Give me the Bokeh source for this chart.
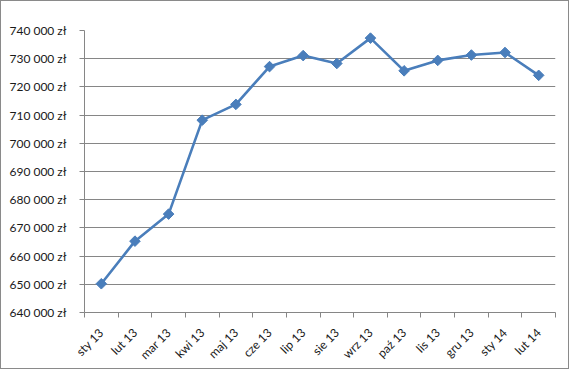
import math
from bokeh.plotting import figure
from bokeh.models import FixedTicker, Range1d
from bokeh.embed import file_html
from bokeh.resources import INLINE

months = ["sty 13", "lut 13", "mar 13", "kwi 13", "maj 13", "cze 13", "lip 13",
          "sie 13", "wrz 13", "paź 13", "lis 13", "gru 13", "sty 14", "lut 14"]
values = [650200, 665300, 674900, 708200, 713800, 727200, 731100,
          728300, 737300, 725700, 729400, 731300, 732200, 724100]
y_ticks = [640000, 650000, 660000, 670000, 680000, 690000,
           700000, 710000, 720000, 730000, 740000]
y_tick_labels = ["640 000 zł", "650 000 zł", "660 000 zł", "670 000 zł",
                 "680 000 zł", "690 000 zł", "700 000 zł", "710 000 zł",
                 "720 000 zł", "730 000 zł", "740 000 zł"]

xs = [i + 0.5 for i in range(len(months))]
boundaries = list(range(len(months) + 1))

GRAY = "#868686"
BLUE = "#4a7ebb"
FONT = "Lato"

p = figure(width=569, height=369, output_backend="svg", toolbar_location=None,
           x_range=Range1d(0, len(months)), y_range=Range1d(y_ticks[0], y_ticks[-1]),
           min_border_left=83, min_border_right=15, min_border_top=29, min_border_bottom=40)
p.styles = {"border": "1px solid #8a8a8a", "box-sizing": "border-box"}
p.outline_line_color = None
p.background_fill_color = "white"
p.border_fill_color = "white"

p.xgrid.grid_line_color = None
p.ygrid.grid_line_color = GRAY
p.ygrid.grid_line_width = 1

p.line(xs, values, line_color=BLUE, line_width=2.6)
p.scatter(xs, values, marker="square", angle=math.pi / 4, size=7.5,
          fill_color=BLUE, line_color=BLUE, line_width=1)

ya = p.yaxis[0]
ya.ticker = FixedTicker(ticks=y_ticks, minor_ticks=[])
ya.major_label_overrides = {t: l for t, l in zip(y_ticks, y_tick_labels)}
ya.axis_line_color = GRAY
ya.major_tick_line_color = GRAY
ya.major_tick_out = 5
ya.major_tick_in = 0
ya.minor_tick_line_color = None
ya.major_label_standoff = 13
ya.major_label_text_font = FONT
ya.major_label_text_font_size = "12px"
ya.major_label_text_color = "#1a1a1a"

xa = p.xaxis[0]
xa.ticker = FixedTicker(ticks=xs, minor_ticks=boundaries)
xa.major_label_overrides = {x: m for x, m in zip(xs, months)}
xa.axis_line_color = GRAY
xa.major_tick_line_color = None
xa.major_tick_out = 0
xa.major_tick_in = 0
xa.minor_tick_line_color = GRAY
xa.minor_tick_out = 5
xa.minor_tick_in = 0
xa.major_label_orientation = math.pi / 4
xa.major_label_standoff = 13
xa.major_label_text_font = FONT
xa.major_label_text_font_size = "12px"
xa.major_label_text_line_height = 1.0
xa.major_label_text_color = "#1a1a1a"

open("out.html", "w").write(file_html(p, INLINE))
